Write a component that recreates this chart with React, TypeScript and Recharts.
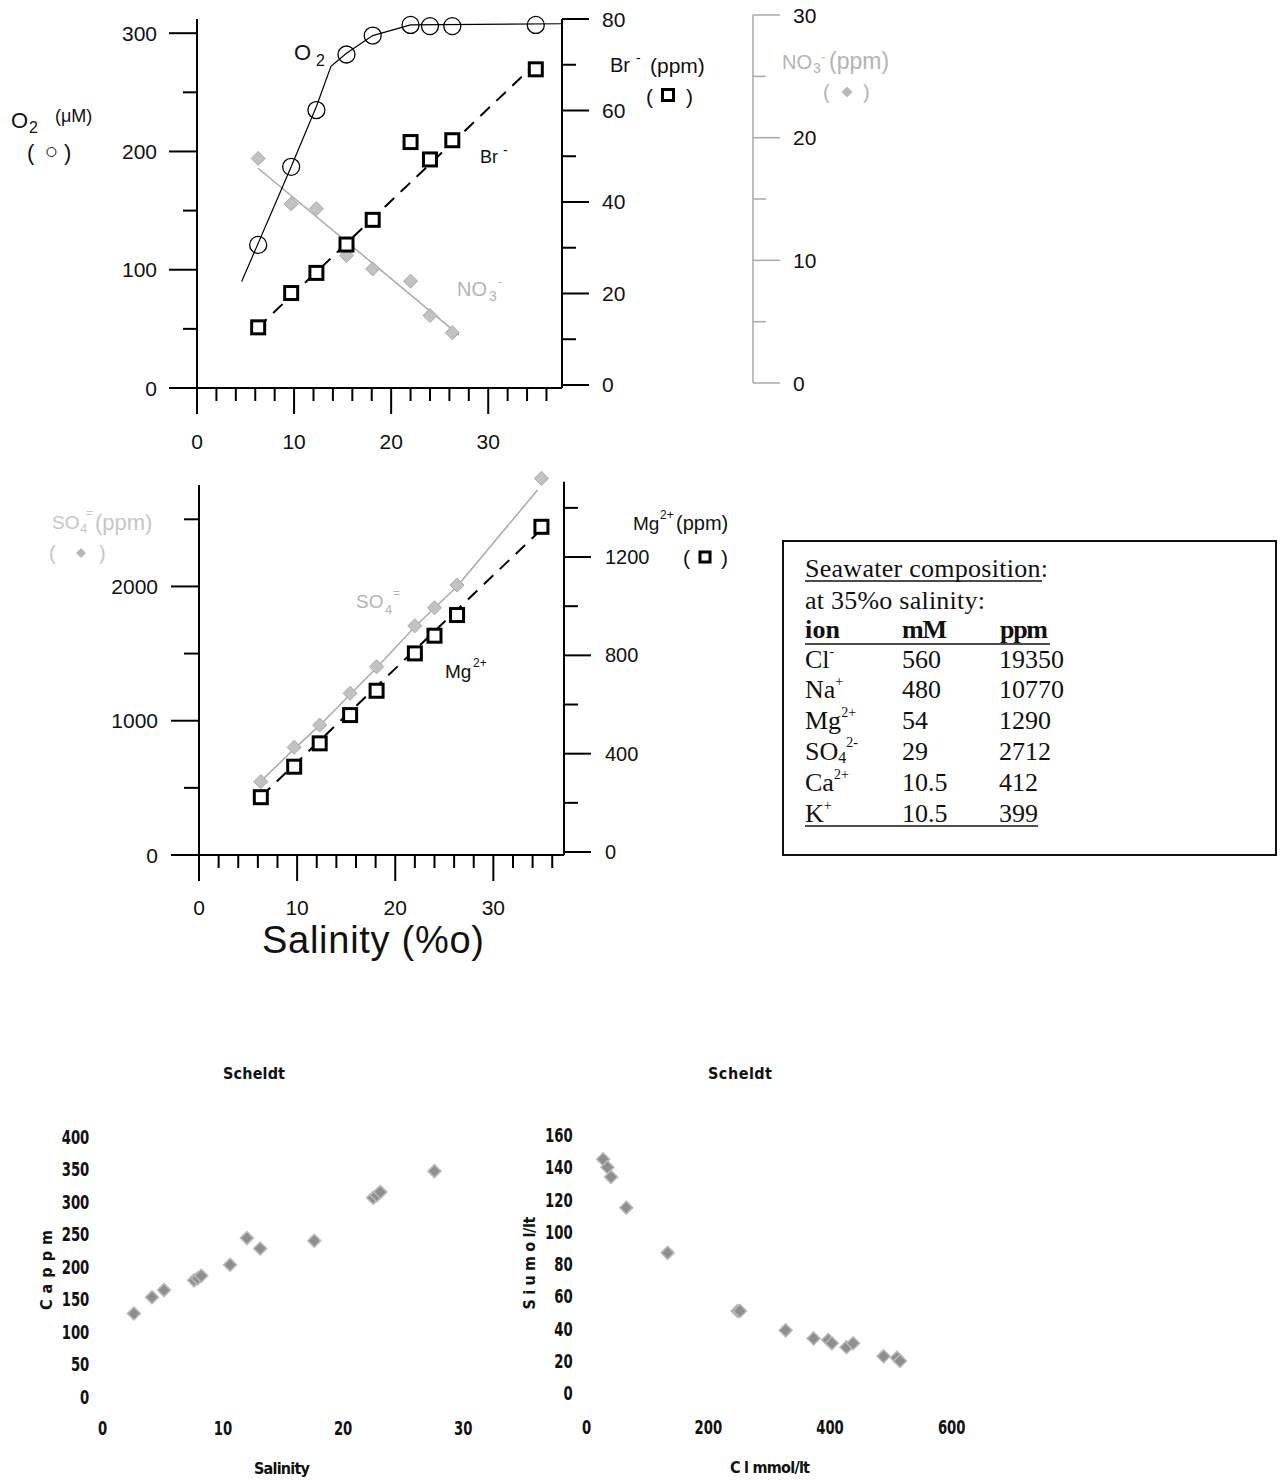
import React from 'react';
import { ComposedChart, Scatter, Line, XAxis, YAxis, ReferenceLine } from 'recharts';

const SANS = "'Liberation Sans', Arial, Helvetica, sans-serif";
const SERIF = "'Liberation Serif', 'Times New Roman', serif";
const NARROW = "'Liberation Sans Narrow', 'Arial Narrow', 'DejaVu Sans Condensed', sans-serif";

// ---------- data: station salinities (‰) ----------
const salinity = [6.3, 9.7, 12.3, 15.4, 18.1, 22.0, 24.0, 26.3, 34.9];
const o2 = [121, 187, 235, 282, 298, 307, 306, 306, 307];
const bromide = [12.6, 20.1, 24.5, 30.7, 36.1, 53.1, 49.3, 53.5, 69.0];
const nitrate = [18.3, 14.6, 14.2, 10.4, 9.3, 8.3, 5.5, 4.1];
const sulfate = [546, 802, 968, 1204, 1402, 1707, 1841, 2010, 2805];
const magnesium = [223, 347, 442, 557, 656, 808, 880, 964, 1323];

// fitted / guide curves
const o2CurveSal = [4.6, 9.7, 12.3, 13.8, 15.4, 18.1, 22.0, 37.6];
const o2CurveVal = [90, 187, 238, 272, 283, 298, 307, 308];
const brFitSal = [6.2, 34.8];
const brFitVal = [12.4, 70.1];
const no3FitSal = [6.3, 27.0];
const no3FitVal = [17.5, 3.9];
const so4CurveSal = [5.9, 9.7, 12.3, 15.4, 18.1, 22.0, 24.0, 26.3, 34.5];
const so4CurveVal = [521, 790, 965, 1195, 1395, 1700, 1840, 2000, 2718];
const mgFitSal = [6.3, 34.5];
const mgFitVal = [225, 1297];

// Scheldt estuary
const caSalinity = [2.6, 4.1, 5.1, 7.6, 7.9, 8.2, 10.6, 12.0, 13.1, 17.6, 22.5, 22.8, 23.1, 27.6];
const caPpm = [128, 153, 164, 179, 182, 186, 203, 244, 228, 240, 306, 310, 315, 347];
const clMmol = [27, 34, 40, 65, 133, 248, 252, 327, 373, 397, 403, 427, 438, 488, 510, 515];
const siUmol = [145, 140, 134, 115, 87, 51, 51, 39, 34, 33, 31, 28.5, 31, 23, 22, 20];

// ticks
const salTicks = [0, 2, 4, 6, 8, 10, 12, 14, 16, 18, 20, 22, 24, 26, 28, 30, 32, 34, 36];
const salMajors = [0, 10, 20, 30];
const o2Ticks = [0, 50, 100, 150, 200, 250, 300];
const o2Majors = [0, 100, 200, 300];
const brTicks = [0, 10, 20, 30, 40, 50, 60, 70, 80];
const brMajors = [0, 20, 40, 60, 80];
const no3Ticks = [0, 5, 10, 15, 20, 25, 30];
const no3Majors = [0, 10, 20, 30];
const so4Ticks = [0, 500, 1000, 1500, 2000, 2500];
const so4Majors = [0, 1000, 2000];
const mgTicks = [0, 200, 400, 600, 800, 1000, 1200, 1400];
const mgMajors = [0, 400, 800, 1200];
const caTicks = [0, 50, 100, 150, 200, 250, 300, 350, 400];
const caSalTicks = [0, 10, 20, 30];
const siTicks = [0, 20, 40, 60, 80, 100, 120, 140, 160];
const clTicks = [0, 200, 400, 600];

// table
const ionBase = ['Cl', 'Na', 'Mg', 'SO', 'Ca', 'K'];
const ionSub = ['', '', '', '4', '', ''];
const ionSup = ['-', '+', '2+', '2-', '2+', '+'];
const ionMM = ['560', '480', '54', '29', '10.5', '10.5'];
const ionPpm = ['19350', '10770', '1290', '2712', '412', '399'];

const pts = (xs: number[], ys: number[]) => ys.map((y, i) => ({ x: xs[i], y }));

// ---------- markers ----------
const OpenCircle = (p: any) => <circle cx={p.cx} cy={p.cy} r={8.5} fill="none" stroke="#000" strokeWidth={1.3} />;
const BoldSquare = (p: any) => (
  <rect x={p.cx - 6.5} y={p.cy - 6.5} width={13} height={13} fill="#fff" stroke="#000" strokeWidth={3} />
);
const GrayDiamond = (p: any) => (
  <path d={`M${p.cx},${p.cy - 7}L${p.cx + 7},${p.cy}L${p.cx},${p.cy + 7}L${p.cx - 7},${p.cy}Z`} fill="#c2c2c2" stroke="#a8a8a8" strokeWidth={1} />
);
const ExcelDiamond = (p: any) => (
  <path d={`M${p.cx},${p.cy - 6.5}L${p.cx + 6.5},${p.cy}L${p.cx},${p.cy + 6.5}L${p.cx - 6.5},${p.cy}Z`} fill="#8e8e8e" stroke="#b9b9b9" strokeWidth={1.5} />
);
const Nothing = () => <g />;

// ---------- tick factory ----------
interface AxisStyle {
  side: 'left' | 'right' | 'bottom';
  majors: number[];
  major: number;
  minor: number;
  gap: number;
  fontSize: number;
  fontFamily: string;
  fontWeight?: number | string;
  textFill: string;
  lineStroke: string;
  lineWidth: number;
  charW?: number;
}
function makeTick(s: AxisStyle) {
  return (props: any) => {
    const { x, y, payload } = props;
    const v = payload ? payload.value : 0;
    const isMajor = s.majors.indexOf(v) >= 0;
    const len = isMajor ? s.major : s.minor;
    const label = isMajor ? String(v) : null;
    const tp: any = { fontSize: s.fontSize, fontFamily: s.fontFamily, fontWeight: s.fontWeight ?? 'normal', fill: s.textFill };
    if (label && s.charW) {
      tp.textLength = label.length * s.charW;
      tp.lengthAdjust = 'spacingAndGlyphs';
    }
    if (s.side === 'bottom') {
      return (
        <g>
          {len > 0 && <line x1={x} y1={y} x2={x} y2={y + len} stroke={s.lineStroke} strokeWidth={s.lineWidth} />}
          {label && (
            <text x={x} y={y + s.gap} textAnchor="middle" dominantBaseline="central" {...tp}>
              {label}
            </text>
          )}
        </g>
      );
    }
    const dir = s.side === 'left' ? -1 : 1;
    return (
      <g>
        {len > 0 && <line x1={x} y1={y} x2={x + dir * len} y2={y} stroke={s.lineStroke} strokeWidth={s.lineWidth} />}
        {label && (
          <text x={x + dir * (s.major + s.gap)} y={y} textAnchor={s.side === 'left' ? 'end' : 'start'} dominantBaseline="central" {...tp}>
            {label}
          </text>
        )}
      </g>
    );
  };
}

const base = { fontFamily: SANS, textFill: '#111', lineStroke: '#000', lineWidth: 2 };
const topXTick = makeTick({ ...base, side: 'bottom', majors: salMajors, major: 26, minor: 13, gap: 53, fontSize: 21 });
const midXTick = makeTick({ ...base, side: 'bottom', majors: salMajors, major: 26, minor: 13, gap: 52, fontSize: 21 });
const o2Tick = makeTick({ ...base, side: 'left', majors: o2Majors, major: 28, minor: 14, gap: 12, fontSize: 21 });
const brTick = makeTick({ ...base, side: 'right', majors: brMajors, major: 27, minor: 14, gap: 13, fontSize: 21 });
const no3Tick = makeTick({ ...base, lineStroke: '#a8a8a8', lineWidth: 1.5, side: 'right', majors: no3Majors, major: 27, minor: 13, gap: 13, fontSize: 21 });
const so4Tick = makeTick({ ...base, side: 'left', majors: so4Majors, major: 28, minor: 15, gap: 13, fontSize: 21 });
const mgTick = makeTick({ ...base, side: 'right', majors: mgMajors, major: 27, minor: 14, gap: 14, fontSize: 20 });
const exBase = { fontFamily: NARROW, fontWeight: 'bold', textFill: '#111', lineStroke: '#fff', lineWidth: 0, charW: 9.2 };
const caTick = makeTick({ ...exBase, side: 'left', majors: caTicks, major: 0, minor: 0, gap: 13.4, fontSize: 19 });
const caXTick = makeTick({ ...exBase, side: 'bottom', majors: caSalTicks, major: 0, minor: 0, gap: 31.6, fontSize: 19 });
const siTick = makeTick({ ...exBase, side: 'left', majors: siTicks, major: 0, minor: 0, gap: 14, fontSize: 19 });
const clTick = makeTick({ ...exBase, side: 'bottom', majors: clTicks, major: 0, minor: 0, gap: 33.4, fontSize: 19 });

const axisCommon = { tickLine: false, tickSize: 0, tickMargin: 0, interval: 0 as const, type: 'number' as const, allowDecimals: true };

function TopChart() {
  return (
    <ComposedChart width={700} height={460} margin={{ top: 19, right: 60, bottom: 0, left: 0 }}>
      <XAxis {...axisCommon} dataKey="x" domain={[0, 37.6]} ticks={salTicks} height={72} axisLine={{ stroke: '#000', strokeWidth: 2 }} tick={topXTick} />
      <YAxis {...axisCommon} yAxisId="left" dataKey="y" domain={[0, 312]} ticks={o2Ticks} width={197} axisLine={{ stroke: '#000', strokeWidth: 2 }} tick={o2Tick} />
      <YAxis {...axisCommon} yAxisId="right" orientation="right" dataKey="y" domain={[-0.66, 80]} ticks={brTicks} width={78} axisLine={{ stroke: '#000', strokeWidth: 2 }} tick={brTick} />
      <YAxis yAxisId="no3" type="number" dataKey="y" domain={[-0.41, 29.67]} hide />
      <Line data={pts(no3FitSal, no3FitVal)} dataKey="y" yAxisId="no3" type="linear" stroke="#aaaaaa" strokeWidth={1.5} dot={false} isAnimationActive={false} />
      <Line data={pts(o2CurveSal, o2CurveVal)} dataKey="y" yAxisId="left" type="linear" stroke="#000" strokeWidth={1.2} dot={false} isAnimationActive={false} />
      <Line data={pts(brFitSal, brFitVal)} dataKey="y" yAxisId="right" type="linear" stroke="#000" strokeWidth={2} strokeDasharray="13 9" dot={false} isAnimationActive={false} />
      <Scatter data={pts(salinity, nitrate)} yAxisId="no3" shape={GrayDiamond} isAnimationActive={false} />
      <Scatter data={pts(salinity, o2)} yAxisId="left" shape={OpenCircle} isAnimationActive={false} />
      <Scatter data={pts(salinity, bromide)} yAxisId="right" shape={BoldSquare} isAnimationActive={false} />
    </ComposedChart>
  );
}

function NitrateAxis() {
  return (
    <ComposedChart width={200} height={460} margin={{ top: 15, right: 0, bottom: 77, left: 0 }}>
      <XAxis type="number" dataKey="x" domain={[0, 1]} hide />
      <YAxis {...axisCommon} orientation="right" dataKey="y" domain={[0, 30]} ticks={no3Ticks} width={100} axisLine={{ stroke: '#a8a8a8', strokeWidth: 1.5 }} tick={no3Tick} />
      <Scatter data={[{ x: 0.5, y: 15 }]} shape={Nothing} isAnimationActive={false} />
    </ComposedChart>
  );
}

function MiddleChart() {
  return (
    <ComposedChart width={700} height={460} margin={{ top: 17, right: 60, bottom: 0, left: 0 }}>
      <XAxis {...axisCommon} dataKey="x" domain={[0, 37.2]} ticks={salTicks} height={65} axisLine={{ stroke: '#000', strokeWidth: 2 }} tick={midXTick} />
      <YAxis {...axisCommon} yAxisId="left" dataKey="y" domain={[0, 2815]} ticks={so4Ticks} width={199} axisLine={false} tick={so4Tick} />
      <YAxis {...axisCommon} yAxisId="right" orientation="right" dataKey="y" domain={[-12.2, 1525.6]} ticks={mgTicks} width={76} axisLine={false} tick={mgTick} />
      <ReferenceLine yAxisId="left" segment={[{ x: 0, y: 0 }, { x: 0, y: 2755 }]} stroke="#000" strokeWidth={2} ifOverflow="visible" />
      <ReferenceLine yAxisId="right" segment={[{ x: 37.2, y: -12.2 }, { x: 37.2, y: 1506 }]} stroke="#000" strokeWidth={2} ifOverflow="visible" />
      <Line data={pts(so4CurveSal, so4CurveVal)} dataKey="y" yAxisId="left" type="linear" stroke="#aaaaaa" strokeWidth={1.5} dot={false} isAnimationActive={false} />
      <Line data={pts(mgFitSal, mgFitVal)} dataKey="y" yAxisId="right" type="linear" stroke="#000" strokeWidth={2} strokeDasharray="13 9" dot={false} isAnimationActive={false} />
      <Scatter data={pts(salinity, sulfate)} yAxisId="left" shape={GrayDiamond} isAnimationActive={false} />
      <Scatter data={pts(salinity, magnesium)} yAxisId="right" shape={BoldSquare} isAnimationActive={false} />
    </ComposedChart>
  );
}

function CaChart() {
  return (
    <ComposedChart width={520} height={441} margin={{ top: 96.7, right: 56.7, bottom: 0, left: 0 }}>
      <XAxis {...axisCommon} dataKey="x" domain={[0, 30]} ticks={caSalTicks} height={84.3} axisLine={false} tick={caXTick} />
      <YAxis {...axisCommon} dataKey="y" domain={[0, 400]} ticks={caTicks} width={102.7} axisLine={false} tick={caTick} />
      <Scatter data={pts(caSalinity, caPpm)} shape={ExcelDiamond} isAnimationActive={false} />
    </ComposedChart>
  );
}

function SiChart() {
  return (
    <ComposedChart width={480} height={441} margin={{ top: 95, right: 48.3, bottom: 0, left: 0 }}>
      <XAxis {...axisCommon} dataKey="x" domain={[0, 600]} ticks={clTicks} height={87.7} axisLine={false} tick={clTick} />
      <YAxis {...axisCommon} dataKey="y" domain={[0, 160]} ticks={siTicks} width={66.7} axisLine={false} tick={siTick} />
      <Scatter data={pts(clMmol, siUmol)} shape={ExcelDiamond} isAnimationActive={false} />
    </ComposedChart>
  );
}

const T = (p: any) => <text dominantBaseline="central" fontFamily={SANS} fill="#111" {...p} />;
const G = (p: any) => <text dominantBaseline="central" fontFamily={SANS} fill="#b4b4b4" {...p} />;
const S = (p: any) => <text dominantBaseline="central" fontFamily={SERIF} fill="#111" fontSize={26} {...p} />;
const B = (p: any) => <text dominantBaseline="central" fontFamily={NARROW} fontWeight="bold" fill="#111" {...p} />;

function Annotations() {
  const rowsY = [659, 689, 720, 751, 782, 813];
  const lg = '#c6c6c6';
  return (
    <svg width={1281} height={1481} style={{ position: 'absolute', left: 0, top: 0, pointerEvents: 'none' }}>
      {/* top panel */}
      <T x={11} y={120} fontSize={22}>O</T>
      <T x={29} y={127} fontSize={16}>2</T>
      <T x={55} y={116} fontSize={18}>(μM)</T>
      <T x={27} y={152} fontSize={22}>(</T>
      <circle cx={51.5} cy={152} r={4.5} fill="none" stroke="#111" strokeWidth={1} />
      <T x={64} y={152} fontSize={22}>)</T>
      <T x={294} y={52} fontSize={22}>O</T>
      <T x={316} y={60} fontSize={16}>2</T>
      <T x={610} y={65} fontSize={20}>Br</T>
      <T x={636} y={58} fontSize={14}>-</T>
      <T x={650} y={65} fontSize={21}>(ppm)</T>
      <T x={646} y={96} fontSize={21}>(</T>
      <rect x={662.5} y={89.5} width={11} height={11} fill="#fff" stroke="#000" strokeWidth={3} />
      <T x={686} y={96} fontSize={21}>)</T>
      <T x={480} y={157} fontSize={18}>Br</T>
      <T x={503} y={150} fontSize={14}>-</T>
      <G x={457} y={289} fontSize={20}>NO</G>
      <G x={489} y={296} fontSize={14}>3</G>
      <G x={498} y={281} fontSize={13}>-</G>
      <G x={782} y={62} fontSize={20}>NO</G>
      <G x={813} y={68} fontSize={14}>3</G>
      <G x={821} y={56} fontSize={13}>-</G>
      <G x={829} y={61} fontSize={23}>(ppm)</G>
      <G x={823} y={92} fontSize={20}>(</G>
      <path d="M847,86.5L852.5,92L847,97.5L841.5,92Z" fill="#b8b8b8" />
      <G x={863} y={92} fontSize={20}>)</G>

      {/* middle panel */}
      <G x={52} y={522} fontSize={19} fill={lg}>SO</G>
      <G x={80} y={528} fontSize={13} fill={lg}>4</G>
      <G x={86} y={513} fontSize={12} fill={lg}>=</G>
      <G x={95} y={522} fontSize={22} fill={lg}>(ppm)</G>
      <G x={49} y={553} fontSize={20} fill={lg}>(</G>
      <path d="M81,548L86,553L81,558L76,553Z" fill="#b8b8b8" />
      <G x={99} y={553} fontSize={20} fill={lg}>)</G>
      <T x={633} y={523} fontSize={19}>Mg</T>
      <T x={660} y={515} fontSize={12}>2+</T>
      <T x={676} y={523} fontSize={20}>(ppm)</T>
      <T x={683} y={557} fontSize={21}>(</T>
      <rect x={700} y={552} width={10} height={10} fill="#fff" stroke="#000" strokeWidth={3} />
      <T x={721} y={557} fontSize={21}>)</T>
      <G x={356} y={601} fontSize={19}>SO</G>
      <G x={385} y={609} fontSize={13}>4</G>
      <G x={393} y={593} fontSize={12}>=</G>
      <T x={445} y={671} fontSize={19}>Mg</T>
      <T x={473} y={663} fontSize={12}>2+</T>
      <T x={373} y={940} fontSize={38} textAnchor="middle" textLength={222}>Salinity (%o)</T>

      {/* table */}
      <rect x={783} y={541} width={493} height={314} fill="none" stroke="#111" strokeWidth={2} />
      <S x={805} y={568} textLength={243}>Seawater composition:</S>
      <line x1={805} y1={581} x2={1042} y2={581} stroke="#111" strokeWidth={1.3} />
      <S x={805} y={600} textLength={180}>at 35%o salinity:</S>
      <S x={805} y={629} fontWeight="bold" textLength={35}>ion</S>
      <S x={902} y={629} fontWeight="bold" textLength={45}>mM</S>
      <S x={1000} y={629} fontWeight="bold" textLength={48}>ppm</S>
      <line x1={805} y1={644} x2={1050} y2={644} stroke="#111" strokeWidth={1.3} />
      {ionBase.map((b, i) => (
        <g key={b + i}>
          <S x={805} y={rowsY[i]}>
            {b}
            {ionSub[i] && (
              <tspan fontSize={16} dy={6}>
                {ionSub[i]}
              </tspan>
            )}
            <tspan fontSize={14} dy={ionSub[i] ? -15 : -8}>
              {ionSup[i]}
            </tspan>
          </S>
          <S x={902} y={rowsY[i]}>{ionMM[i]}</S>
          <S x={999} y={rowsY[i]}>{ionPpm[i]}</S>
        </g>
      ))}
      <line x1={805} y1={826} x2={1038} y2={826} stroke="#111" strokeWidth={1.3} />

      {/* Scheldt panels */}
      <B x={254} y={1073} fontSize={16} textAnchor="middle" textLength={62}>Scheldt</B>
      <B x={282} y={1468} fontSize={16} textAnchor="middle" textLength={56}>Salinity</B>
      <B x={46} y={1270} fontSize={16} textAnchor="middle" textLength={80} transform="rotate(-90 46 1270)">C a p p m</B>
      <B x={740} y={1073} fontSize={16} textAnchor="middle" textLength={64}>Scheldt</B>
      <B x={770} y={1467} fontSize={16} textAnchor="middle" textLength={80}>C l mmol/lt</B>
      <B x={529} y={1263} fontSize={16} textAnchor="middle" textLength={93} transform="rotate(-90 529 1263)">S i u m o l/lt</B>
    </svg>
  );
}

export default function App() {
  return (
    <div style={{ position: 'absolute', left: 0, top: 0, width: 1281, height: 1481, background: '#fff', overflow: 'hidden' }}>
      <div style={{ position: 'absolute', left: 0, top: 0 }}>
        <TopChart />
      </div>
      <div style={{ position: 'absolute', left: 653, top: 0 }}>
        <NitrateAxis />
      </div>
      <div style={{ position: 'absolute', left: 0, top: 460 }}>
        <MiddleChart />
      </div>
      <div style={{ position: 'absolute', left: 0, top: 1040 }}>
        <CaChart />
      </div>
      <div style={{ position: 'absolute', left: 520, top: 1040 }}>
        <SiChart />
      </div>
      <Annotations />
    </div>
  );
}
